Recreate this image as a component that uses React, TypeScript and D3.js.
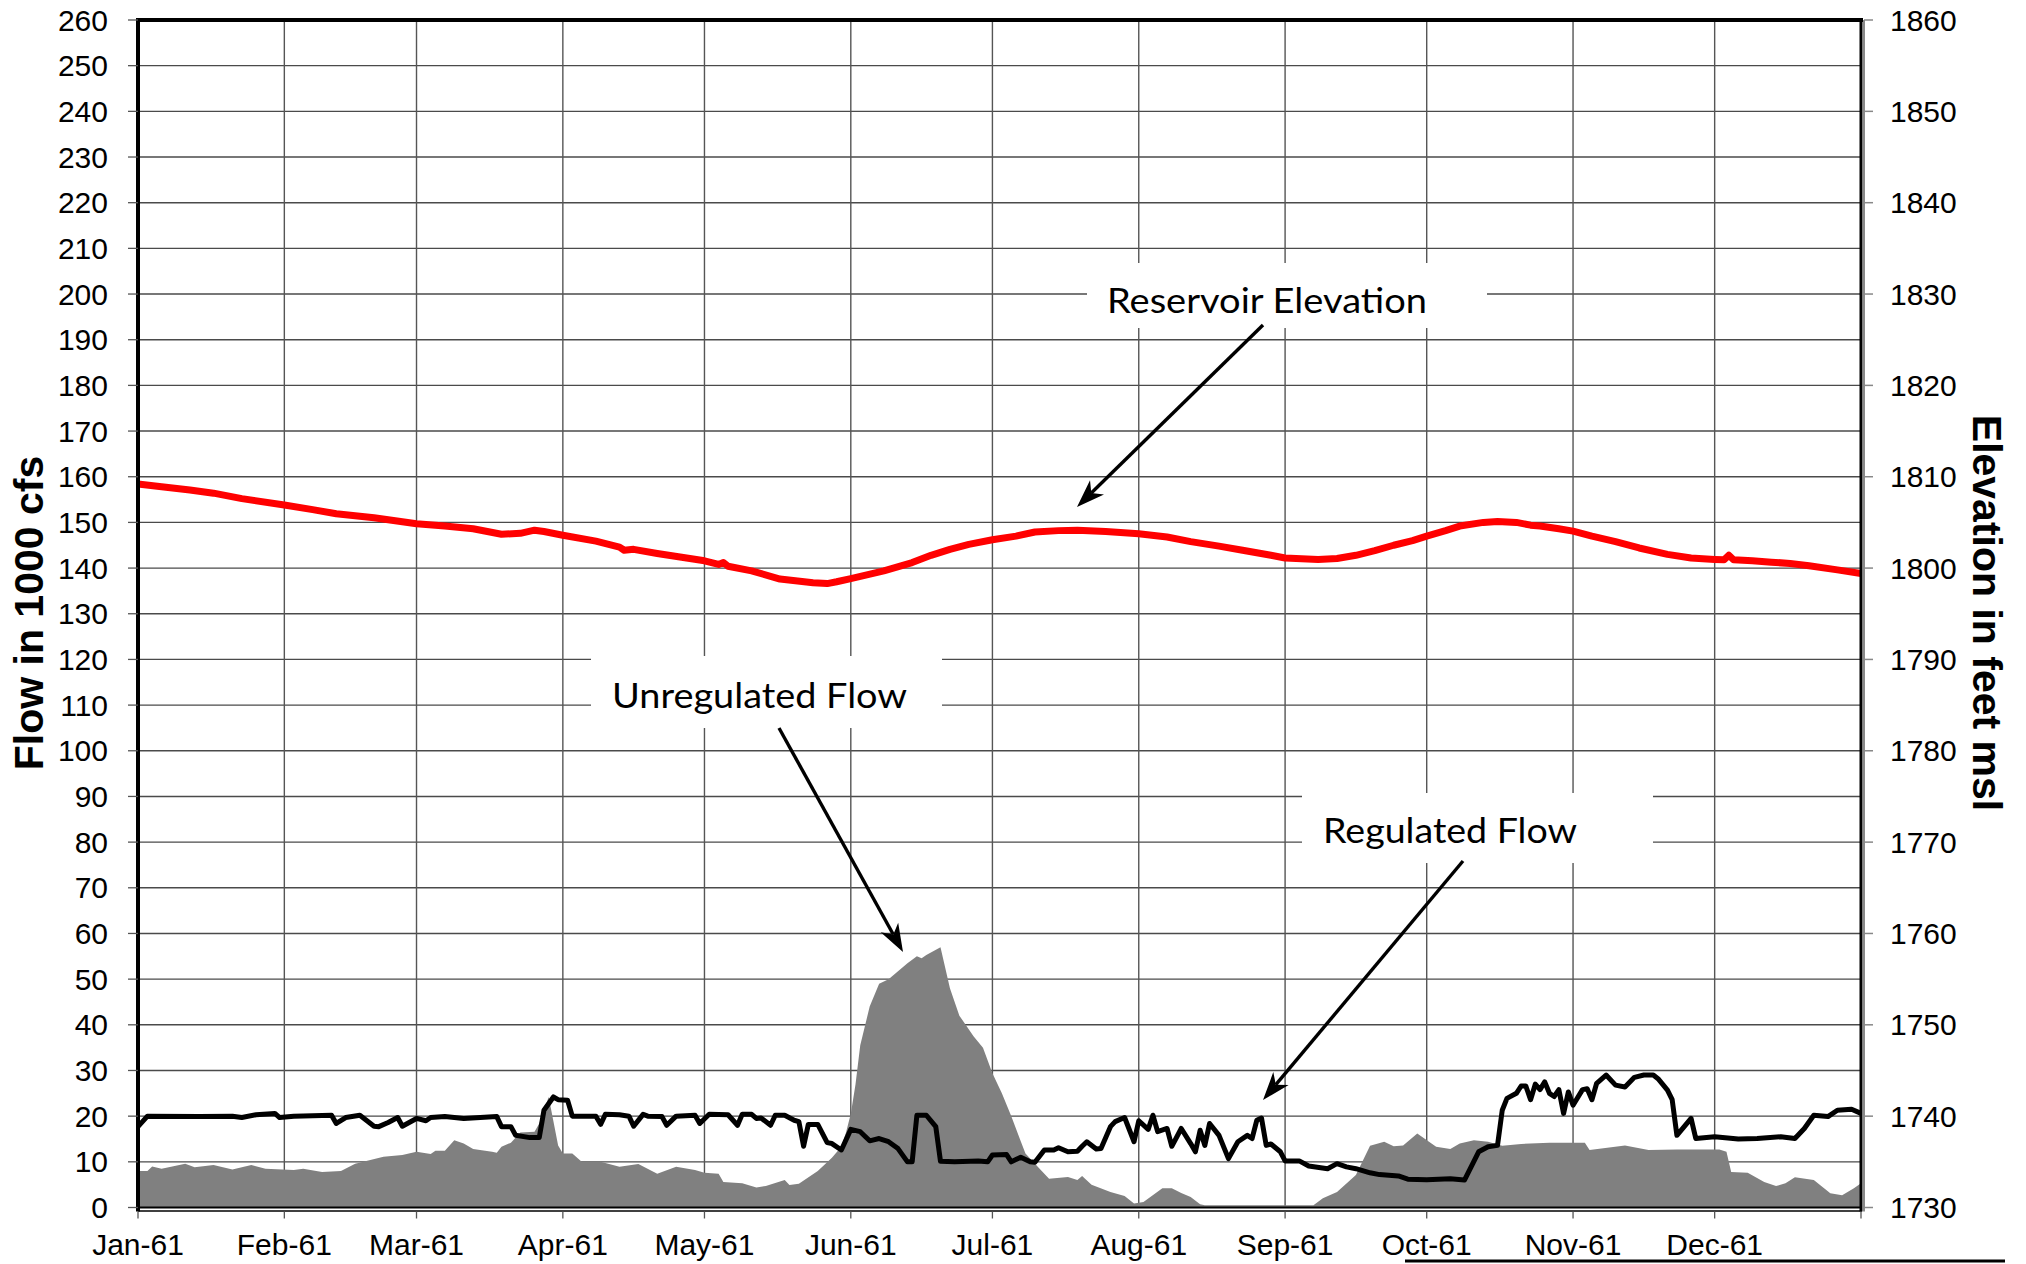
import React from 'react';
import * as d3 from 'd3';

// ---------------- data (day offset from 1 Jan 1961) ----------------
const monthLabels = ['Jan-61','Feb-61','Mar-61','Apr-61','May-61','Jun-61','Jul-61','Aug-61','Sep-61','Oct-61','Nov-61','Dec-61'];
const flowTickValues = [0,10,20,30,40,50,60,70,80,90,100,110,120,130,140,150,160,170,180,190,200,210,220,230,240,250,260];
const elevTickValues = [1730,1740,1750,1760,1770,1780,1790,1800,1810,1820,1830,1840,1850,1860];

const regulatedDays = [0,2,13,20,22,25,29,30,33,41,42,44,47,50,51,53,55,56,59,61,62,65,69,76,77,79,80,83,85,86,88,89,91,92,97,98,99,102,104,105,107,108,111,112,114,118,119,121,125,127,128,130,131,132,134,135,137,139,140,141,142,144,146,147,149,151,153,155,157,159,161,163,164,165,167,169,170,173,178,180,181,184,185,187,189,190,192,194,195,197,199,200,201,203,204,206,207,209,211,212,214,215,216,218,219,221,223,224,225,226,227,229,231,233,235,236,237,238,239,240,242,243,246,248,252,254,256,258,261,263,267,269,273,278,281,284,286,288,289,290,292,293,294,295,296,297,298,299,300,301,302,303,304,306,307,308,309,311,313,315,317,319,321,322,324,325,326,329,330,334,339,343,348,351,353,355,358,360,363,365];
const regulatedFlow = [17.7,20,19.9,20,19.7,20.3,20.6,19.7,20,20.2,18.4,19.7,20.2,17.8,17.7,18.6,19.7,17.8,19.5,19,19.7,19.9,19.5,19.9,17.7,17.7,15.8,15.3,15.3,21.3,24.2,23.6,23.5,20,20,18.2,20.4,20.3,20,17.8,20.4,20,19.9,18,20,20.2,18.4,20.4,20.3,18,20.4,20.4,19.5,19.6,18,20.2,20.2,19.1,18.8,13.4,18.2,18.2,14.2,14,12.6,17.1,16.6,14.6,15.1,14.4,12.9,10,10,20.2,20.2,17.7,10.1,10,10.2,10,11.5,11.6,10,11,10,9.9,12.6,12.6,13.1,12.2,12.3,13.4,14.4,12.8,12.9,17.7,18.8,19.7,14.4,19,17.1,20.2,16.6,17.3,13.4,17.3,14,12.2,16.9,13.6,18.4,15.8,10.7,14.4,15.8,15.1,19.1,19.6,13.6,13.9,12.2,10.2,10.2,9.1,8.5,9.6,8.9,8.5,7.6,7.2,6.9,6.2,6.1,6.3,6,12.2,13.3,13.6,21.3,23.9,25,26.6,26.6,23.6,27,25.8,27.5,25,24.3,25.8,20.6,25.3,22.4,25.8,26,23.6,27.2,29,26.8,26.4,28.5,29,29,28.2,25.7,23.6,15.8,19.5,15.1,15.5,15,15.1,15.5,15.1,17.3,20.2,19.9,21.3,21.5,20.6];

const unregulatedDays = [0,2,3,5,10,12,16,20,24,27,33,35,39,43,46,52,56,59,62,63,65,67,69,71,75,76,77,79,81,84,85,87,89,90,92,94,98,102,106,110,114,118,120,123,124,128,131,133,137,138,140,144,147,149,150,151,152,153,155,157,159,161,163,165,166,167,170,172,174,177,179,181,183,185,187,188,191,193,197,199,200,202,206,209,211,213,217,219,221,223,225,226,249,251,254,258,261,264,266,268,271,275,278,280,283,286,289,293,299,306.5,307.5,310,315,320,326,335,336.5,337.5,341,344.5,347,349,351,355,358.5,361,363.5,365];
const unregulatedFlow = [8,8,9,8.5,9.6,8.8,9.3,8.3,9.3,8.5,8.2,8.5,7.8,8,9.6,11.1,11.5,12.2,11.7,12.4,12.4,14.7,14,12.8,12.2,12,13.3,14.2,16.4,16.6,18.4,24.2,13.6,11.8,11.8,10,10,8.9,9.5,7.4,8.9,8.2,7.6,7.4,5.6,5.3,4.4,4.7,6,4.9,5.2,8,10.9,13.3,16.5,20.5,27,35.5,44,49,50,51.7,53.5,55,54.6,55.3,57,48,42,37.5,35,29.4,25,20,14.5,11.8,8.5,6.3,6.7,6,6.9,5,3.4,2.5,0.9,1.2,4.2,4.2,3.2,2.3,0.7,0.5,0.5,2,3.4,7.1,13.5,14.4,13.4,13.6,16.2,13.3,12.8,14,14.7,14.4,13.5,13.9,14.2,14.2,12.6,12.9,13.6,12.6,12.7,12.7,12.2,7.8,7.6,5.6,4.7,5.3,6.6,6,3.1,2.7,4.2,5.3];

const elevationDays = [0,5,11,16,22,31,37,42,50,59,65,71,77,81,84,86,90,97,102,103,105,110,120,123,124,125,130,136,143,146,148,151,158,164,168,172,176,181,186,190,195,199,205,212,218,223,229,234,240,243,250,254,258,262,266,270,273,277,280,285,288,292,295,297,301,304,308,313,318,324,329,334,336,337,338,342,346,350,354,360,365];
const elevation = [1809.2,1808.9,1808.55,1808.2,1807.6,1806.9,1806.4,1805.95,1805.5,1804.85,1804.6,1804.3,1803.7,1803.8,1804.15,1804,1803.6,1802.95,1802.3,1801.95,1802.05,1801.6,1800.8,1800.4,1800.6,1800.2,1799.7,1798.8,1798.4,1798.3,1798.5,1798.85,1799.7,1800.6,1801.4,1802.05,1802.6,1803.1,1803.5,1803.95,1804.1,1804.15,1804,1803.75,1803.4,1802.9,1802.4,1801.95,1801.4,1801.1,1800.95,1801.05,1801.4,1801.9,1802.5,1803,1803.5,1804.1,1804.6,1805,1805.1,1805,1804.7,1804.6,1804.3,1804.05,1803.5,1802.9,1802.2,1801.5,1801.1,1800.95,1800.9,1801.4,1800.9,1800.8,1800.65,1800.5,1800.25,1799.8,1799.4];

// ---------------- layout ----------------
const W = 2026, H = 1264;
const left = 138, right = 1861, top = 20, bottom = 1207.5;
const start = Date.UTC(1961, 0, 1);
const dayDate = (d: number) => new Date(start + d * 86400000);

const x = d3.scaleUtc().domain([new Date(start), new Date(Date.UTC(1962, 0, 1))]).range([left, right]);
const yFlow = d3.scaleLinear().domain([0, 260]).range([bottom, top]);
const yElev = d3.scaleLinear().domain([1730, 1860]).range([bottom, top]);
const monthTicks = d3.utcMonth.range(new Date(start), new Date(Date.UTC(1962, 0, 2)));

const FONT = '"Liberation Sans", Arial, sans-serif';
const ANN = 'Lato, "Open Sans", sans-serif';

function Arrow({ x1, y1, x2, y2 }: { x1: number; y1: number; x2: number; y2: number }) {
  const a = Math.atan2(y2 - y1, x2 - x1);
  const L = 28, w = 10, n = 20;
  const p = (dx: number, dy: number) => [x2 + dx * Math.cos(a) - dy * Math.sin(a), y2 + dx * Math.sin(a) + dy * Math.cos(a)];
  const pts = [p(0, 0), p(-L, -w), p(-n, 0), p(-L, w)];
  const back = p(-n, 0);
  return (
    <g>
      <line x1={x1} y1={y1} x2={back[0]} y2={back[1]} stroke="#000" strokeWidth={3.4} />
      <path d={`M${pts.map(q => q.join(',')).join('L')}Z`} fill="#000" />
    </g>
  );
}

function Note({ bx, by, bw, bh, tx, ty, tw, text }: any) {
  return (
    <g>
      <rect x={bx} y={by} width={bw} height={bh} fill="#fff" />
      <text x={tx} y={ty} fontFamily={ANN} fontSize={35} textLength={tw} lengthAdjust="spacingAndGlyphs" fill="#000">{text}</text>
    </g>
  );
}

export default function App() {
  const area = d3.area<number>()
    .x((_, i) => x(dayDate(unregulatedDays[i])))
    .y0(yFlow(0))
    .y1(v => yFlow(v))(unregulatedFlow) as string;
  const regLine = d3.line<number>()
    .x((_, i) => x(dayDate(regulatedDays[i])))
    .y(v => yFlow(v))(regulatedFlow) as string;
  const elevLine = d3.line<number>()
    .x((_, i) => x(dayDate(elevationDays[i])))
    .y(v => yElev(v))(elevation) as string;

  return (
    <svg width={W} height={H} style={{ position: 'absolute', left: 0, top: 0, background: '#fff' }}>
      <rect x={0} y={0} width={W} height={H} fill="#fff" />
      {/* gridlines */}
      {flowTickValues.filter(v => v > 0 && v < 260).map(v => (
        <line key={'h' + v} x1={left} x2={right} y1={yFlow(v)} y2={yFlow(v)} stroke="#4a4a4a" strokeWidth={1.4} />
      ))}
      {monthTicks.slice(1, 12).map((d, i) => (
        <line key={'v' + i} x1={x(d)} x2={x(d)} y1={top} y2={bottom} stroke="#555" strokeWidth={1.4} />
      ))}
      {/* annotation boxes hide grid */}
      <Note bx={1087} by={263} bw={400} bh={65} tx={1107} ty={313} tw={320} text="Reservoir Elevation" />
      <Note bx={591} by={656} bw={351} bh={72} tx={612} ty={708} tw={295} text="Unregulated Flow" />
      <Note bx={1302} by={793} bw={351} bh={70} tx={1323} ty={843} tw={254} text="Regulated Flow" />

      {/* series */}
      <path d={area} fill="#808080" />
      <path d={regLine} fill="none" stroke="#000" strokeWidth={5} strokeLinejoin="round" />
      <path d={elevLine} fill="none" stroke="#ff0000" strokeWidth={7} strokeLinejoin="round" />

      {/* arrows */}
      <Arrow x1={1263} y1={325} x2={1077} y2={507} />
      <Arrow x1={779} y1={728} x2={903} y2={952} />
      <Arrow x1={1463} y1={861} x2={1263} y2={1100} />

      {/* axes */}
      <line x1={left} x2={right + 1} y1={bottom} y2={bottom} stroke="#000" strokeWidth={2} />
      <line x1={left} x2={right + 1} y1={bottom + 3.5} y2={bottom + 3.5} stroke="#000" strokeWidth={1.5} />
      <line x1={left - 2} x2={right + 2} y1={top} y2={top} stroke="#000" strokeWidth={4} />
      <line x1={left} x2={left} y1={top - 2} y2={bottom + 4} stroke="#000" strokeWidth={4} />
      <line x1={right} x2={right} y1={top} y2={bottom + 4} stroke="#000" strokeWidth={3} />
      <line x1={right + 3} x2={right + 3} y1={top} y2={bottom + 4} stroke="#8a8a8a" strokeWidth={2} />

      {/* left ticks + labels */}
      {flowTickValues.map(v => (
        <g key={'lt' + v}>
          <line x1={left - 10} x2={left} y1={yFlow(v)} y2={yFlow(v)} stroke="#555" strokeWidth={1.3} />
          <text x={108} y={yFlow(v)} dy="0.35em" textAnchor="end" fontFamily={FONT} fontSize={30} fill="#000">{v}</text>
        </g>
      ))}
      {/* right ticks + labels */}
      {elevTickValues.map(v => (
        <g key={'rt' + v}>
          <line x1={right + 3} x2={right + 12} y1={yElev(v)} y2={yElev(v)} stroke="#888" strokeWidth={1.5} />
          <text x={1890} y={yElev(v)} dy="0.35em" textAnchor="start" fontFamily={FONT} fontSize={30} fill="#000">{v}</text>
        </g>
      ))}
      {/* bottom ticks + labels */}
      {monthTicks.map((d, i) => (
        <line key={'bt' + i} x1={x(d)} x2={x(d)} y1={bottom + 4} y2={bottom + 11} stroke="#555" strokeWidth={1.3} />
      ))}
      {monthTicks.slice(0, 12).map((d, i) => (
        <text key={'bl' + i} x={x(d)} y={1255} textAnchor="middle" fontFamily={FONT} fontSize={30} fill="#000">{monthLabels[i]}</text>
      ))}

      {/* axis titles */}
      <text transform={`translate(43,613) rotate(-90)`} textAnchor="middle" fontFamily={FONT} fontWeight="bold" fontSize={41} fill="#000">Flow in 1000 cfs</text>
      <text transform={`translate(1973,613) rotate(90)`} textAnchor="middle" fontFamily={FONT} fontWeight="bold" fontSize={41} fill="#000">Elevation in feet msl</text>

      {/* stray bottom-right rule */}
      <line x1={1405} x2={2005} y1={1261} y2={1261} stroke="#000" strokeWidth={3} />
    </svg>
  );
}
